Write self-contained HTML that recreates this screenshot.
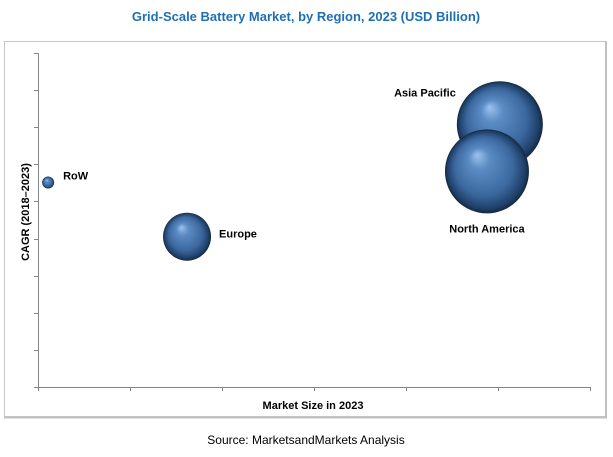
<!DOCTYPE html>
<html><head><meta charset="utf-8"><style>
html,body{margin:0;padding:0;background:#fff;}
svg{display:block;font-family:"Liberation Sans",Calibri,sans-serif;}
</style></head><body>
<svg id="chart" width="613" height="457" viewBox="0 0 613 457">
<defs>
<radialGradient id="sph" cx="0.5" cy="0.5" r="0.5" fx="0.38" fy="0.3">
<stop offset="0" stop-color="#9cc3ef"/>
<stop offset="0.25" stop-color="#5c8cc4"/>
<stop offset="0.7" stop-color="#3a679e"/>
<stop offset="0.92" stop-color="#1f4068"/>
<stop offset="1" stop-color="#14283f"/>
</radialGradient>
</defs>
<text x="306" y="21" text-anchor="middle" font-size="13" font-weight="bold" fill="#1f6fb5">Grid-Scale Battery Market, by Region, 2023 (USD Billion)</text>
<rect x="4.5" y="41.5" width="601" height="375" fill="#fff" stroke="#c8c8c8" stroke-width="1"/>
<line x1="606" y1="41" x2="606" y2="418" stroke="#c0c0c0" stroke-width="2"/>
<line x1="4" y1="417.5" x2="607" y2="417.5" stroke="#c0c0c0" stroke-width="2"/>
<g id="axes"></g>
<g id="bubbles"></g>
<text x="313" y="409" text-anchor="middle" font-size="11" font-weight="bold" fill="#000">Market Size in 2023</text>
<text transform="translate(29,212) rotate(-90)" text-anchor="middle" font-size="11" font-weight="bold" fill="#000">CAGR (2018–2023)</text>
<text x="306" y="444" text-anchor="middle" font-size="12" fill="#000">Source: MarketsandMarkets Analysis</text>
</svg>
<script>
const regions = ["RoW", "Europe", "Asia Pacific", "North America"];
const marketSize = [0.11, 1.62, 5.02, 4.88];
const cagr = [5.51, 4.05, 7.08, 5.81];
const bubbleSize = [6, 24, 43, 42];
const xTicks = [0, 1, 2, 3, 4, 5, 6];
const yTicks = [0, 1, 2, 3, 4, 5, 6, 7, 8, 9];

const NS = "http://www.w3.org/2000/svg";
const X0 = 38, X1 = 590, Y0 = 387, Y1 = 53;
const xMax = 6, yMax = 9;
const xs = v => X0 + (X1 - X0) * v / xMax;
const ys = v => Y0 - (Y0 - Y1) * v / yMax;
const rs = v => v;
function mk(tag, attrs, parent) {
  const e = document.createElementNS(NS, tag);
  for (const k in attrs) e.setAttribute(k, attrs[k]);
  parent.appendChild(e);
  return e;
}
const axes = document.getElementById("axes");
let l = mk("line", {x1: X0 + .5, y1: Y1, x2: X0 + .5, y2: Y0 + .5, stroke: "#868686"}, axes);


l = mk("line", {x1: X0, y1: Y0 + .5, x2: X1 + 1, y2: Y0 + .5, stroke: "#868686"}, axes);


yTicks.forEach(t => {
  const y = Math.round(ys(t)) + .5;
  const e = mk("line", {x1: X0 - 4, y1: y, x2: X0, y2: y, stroke: "#868686"}, axes);
  
  
});
xTicks.forEach(t => {
  const x = Math.round(xs(t)) + .5;
  const e = mk("line", {x1: x, y1: Y0, x2: x, y2: Y0 + 4, stroke: "#868686"}, axes);
  
  
});
const bub = document.getElementById("bubbles");
const labelPos = [
  (cx, cy, r) => [cx + r + 9, cy - 3, "start"],
  (cx, cy, r) => [cx + r + 8, cy + 1, "start"],
  (cx, cy, r) => [cx - r - 1, cy - 28, "end"],
  (cx, cy, r) => [cx, cy + r + 19, "middle"]
];
regions.forEach((name, i) => {
  const cx = xs(marketSize[i]), cy = ys(cagr[i]), r = rs(bubbleSize[i]);
  const c = mk("circle", {cx: cx, cy: cy, r: r, fill: "url(#sph)"}, bub);
  
  
});
regions.forEach((name, i) => {
  const cx = xs(marketSize[i]), cy = ys(cagr[i]), r = rs(bubbleSize[i]);
  const [lx, ly, anc] = labelPos[i](cx, cy, r);
  const t = mk("text", {x: lx, y: ly, "text-anchor": anc, "font-size": 11, "font-weight": "bold", fill: "#000"}, bub);
  t.textContent = name;
  
  
});
</script>
</body></html>
